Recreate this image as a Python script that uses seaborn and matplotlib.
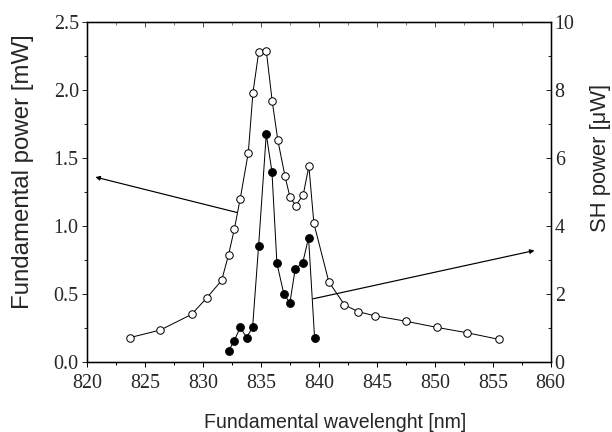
import numpy as np
import pandas as pd
import matplotlib
matplotlib.use('Agg')
import matplotlib.pyplot as plt
from matplotlib.ticker import MultipleLocator
import seaborn as sns

# Fundamental power (open circles, left axis, mW)
fund_wl = [823.7, 826.3, 829.0, 830.3, 831.6, 832.2, 832.7, 833.2, 833.9, 834.3,
           834.8, 835.45, 835.96, 836.45, 837.06, 837.5, 838.0, 838.64, 839.13,
           839.56, 840.85, 842.2, 843.4, 844.8, 847.5, 850.15, 852.8, 855.5]
fund_power = [0.18, 0.235, 0.35, 0.47, 0.60, 0.79, 0.98, 1.20, 1.54, 1.98,
              2.28, 2.29, 1.92, 1.63, 1.37, 1.21, 1.15, 1.23, 1.44,
              1.02, 0.59, 0.42, 0.37, 0.34, 0.30, 0.255, 0.215, 0.167]

# SH power (filled circles, right axis, uW)
sh_wl = [832.2, 832.68, 833.2, 833.75, 834.27, 834.79, 835.45, 835.94,
         836.37, 836.97, 837.49, 837.95, 838.6, 839.1, 839.62]
sh_power = [0.33, 0.62, 1.02, 0.72, 1.02, 3.42, 6.7, 5.6,
            2.9, 2.0, 1.74, 2.74, 2.92, 3.66, 0.72]

fund_df = pd.DataFrame({'wl': fund_wl, 'p': fund_power})
sh_df = pd.DataFrame({'wl': sh_wl, 'p': sh_power})

sns.set_style('ticks')
plt.rcParams['font.family'] = ['Liberation Serif', 'DejaVu Serif']

fig, ax = plt.subplots(figsize=(8.5, 6), dpi=72)
fig.subplots_adjust(left=0.1426, right=0.8998, bottom=0.162, top=0.949)
ax2 = ax.twinx()

sns.lineplot(data=fund_df, x='wl', y='p', ax=ax, sort=False, estimator=None,
             color='black', lw=1.0, marker='o', markersize=7.5,
             markerfacecolor='white', markeredgecolor='black', markeredgewidth=1.0)
sns.lineplot(data=sh_df, x='wl', y='p', ax=ax2, sort=False, estimator=None,
             color='black', lw=1.0, marker='o', markersize=8,
             markerfacecolor='black', markeredgecolor='black')

# arrows pointing to the axes
ax.annotate('', xy=(820.7, 1.36), xytext=(832.9, 1.10),
            arrowprops=dict(arrowstyle='-|>', color='black', lw=1.2,
                            mutation_scale=9, shrinkA=0, shrinkB=0))
ax2.annotate('', xy=(858.6, 3.28), xytext=(839.5, 1.86),
             arrowprops=dict(arrowstyle='-|>', color='black', lw=1.2,
                             mutation_scale=9, shrinkA=0, shrinkB=0))

ax.set_xlim(820, 860)
ax.set_ylim(0, 2.5)
ax2.set_ylim(0, 10)

ax.xaxis.set_major_locator(MultipleLocator(5))
ax.xaxis.set_minor_locator(MultipleLocator(2.5))
ax.yaxis.set_major_locator(MultipleLocator(0.5))
ax.yaxis.set_minor_locator(MultipleLocator(0.25))
ax2.yaxis.set_major_locator(MultipleLocator(2))
ax2.yaxis.set_minor_locator(MultipleLocator(1))
ax.yaxis.set_major_formatter(matplotlib.ticker.FormatStrFormatter('%.1f'))

ax.tick_params(axis='x', which='both', direction='out', bottom=True, top=False,
               labelsize=20, color='black', width=1.0, pad=7)
ax.tick_params(axis='x', which='major', length=5)
ax.tick_params(axis='x', which='minor', length=3)
ax.tick_params(axis='y', which='both', direction='out', labelsize=20, width=1.0)
ax.tick_params(axis='y', which='major', length=5)
ax.tick_params(axis='y', which='minor', length=3)
ax2.tick_params(axis='y', which='both', direction='in', labelsize=20, width=1.0, pad=4)
ax2.tick_params(axis='y', which='major', length=5)
ax2.tick_params(axis='y', which='minor', length=3)

# ticks on the top frame, pointing inward
top = ax.secondary_xaxis('top')
top.xaxis.set_major_locator(MultipleLocator(5))
top.xaxis.set_minor_locator(MultipleLocator(2.5))
top.tick_params(axis='x', which='both', direction='in', labeltop=False)
top.tick_params(axis='x', which='major', length=5)
top.tick_params(axis='x', which='minor', length=3)

for a in (ax, ax2):
    for s in a.spines.values():
        s.set_visible(True)
        s.set_color('black')
        s.set_linewidth(1.3)

ax.set_xlabel('Fundamental wavelenght [nm]', fontsize=19.5, family='Liberation Sans')
ax.xaxis.set_label_coords(0.535, -0.15)
ax.set_ylabel('Fundamental power [mW]', fontsize=24, family='Liberation Sans')
ax.yaxis.set_label_coords(-0.115, 0.56)
ax2.set_ylabel('SH power [\u03bcW]', fontsize=22, family='Liberation Sans')
ax2.yaxis.set_label_coords(1.085, 0.6)

fig.savefig('out.png', dpi=72)
